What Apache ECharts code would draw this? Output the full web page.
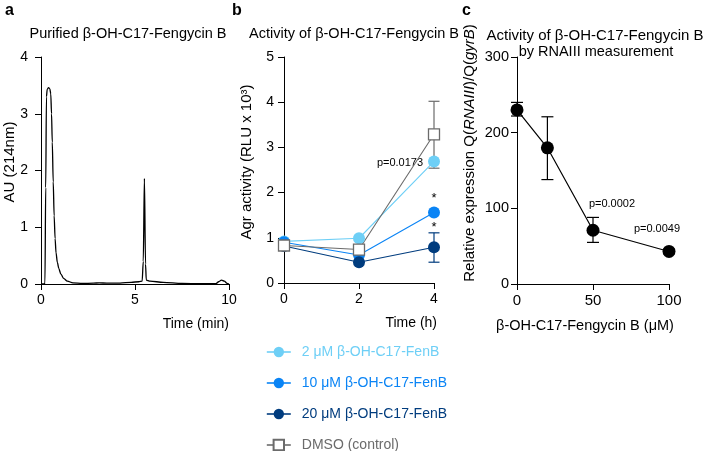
<!DOCTYPE html>
<html>
<head>
<meta charset="utf-8">
<script src="https://cdn.jsdelivr.net/npm/echarts@6/dist/echarts.min.js"></script>
<style>
html,body{margin:0;padding:0;background:#fff;}
#chart{width:703px;height:451px;}
</style>
</head>
<body>
<div id="chart"></div>
<script>
// ---------- Panel a: chromatogram ----------
const chromTime = [0, 0.19, 0.21, 0.25, 0.29, 0.33, 0.4, 0.47, 0.52, 0.56, 0.6, 0.65, 0.7, 0.75, 0.8, 0.87, 0.95, 1.05, 1.2, 1.4, 1.7, 2.2, 2.8, 3.1, 3.5, 4.2, 4.8, 5.2, 5.38, 5.44, 5.5, 5.56, 5.6, 5.8, 6.5, 7.5, 8.5, 9.3, 9.45, 9.6, 9.75, 9.9, 10];
const chromAU   = [0, 0, 0.02, 1.7, 3.3, 3.43, 3.46, 3.44, 3.35, 3.0, 2.5, 1.8, 1.2, 0.8, 0.55, 0.38, 0.27, 0.18, 0.1, 0.05, 0.02, 0.01, 0.015, 0.02, 0.015, 0.015, 0.03, 0.04, 0.05, 0.4, 1.86, 0.35, 0.07, 0.05, 0.03, 0.01, 0.005, 0.005, 0.04, 0.07, 0.05, 0.01, 0];

// ---------- Panel b: Agr activity ----------
const timeH = [0, 2, 4];
const fen2uM  = [0.92, 0.99, 2.69];
const fen10uM = [0.9, 0.62, 1.56];
const fen20uM = [0.82, 0.46, 0.79];
const dmso    = [0.83, 0.74, 3.29];
const fen20Err = [[4, 0.46, 1.11]];
const dmsoErr  = [[4, 2.54, 4.02]];
const legendNames = ['2 μM β-OH-C17-FenB', '10 μM β-OH-C17-FenB', '20 μM β-OH-C17-FenB', 'DMSO (control)'];

// ---------- Panel c: RNAIII expression ----------
const concUM = [0, 20, 50, 100];
const relExpr = [230, 180, 71, 43];
const relErrLow  = [222, 138, 55, 40];
const relErrHigh = [240, 221, 88, 46];

const FONT = '"Liberation Sans", Arial, Helvetica, sans-serif';
const C_LIGHT = '#6ECFF6', C_MID = '#0A84F5', C_DARK = '#003C7E', C_GRAY = '#6b6b6b';

function zip(xs, ys){ return xs.map((x,i)=>[x, ys[i]]); }

function axisCommon(fs, margin){
  return {
    axisLine:{show:true, onZero:false, lineStyle:{color:'#000', width:1}},
    axisTick:{show:true, length:6, lineStyle:{color:'#000', width:1}},
    axisLabel:{color:'#000', fontSize:fs, fontFamily:FONT, margin:margin},
    splitLine:{show:false}
  };
}

function errRender(capW, color){
  return function(params, api){
    const x = api.value(0), lo = api.value(1), hi = api.value(2);
    const pL = api.coord([x, lo]), pH = api.coord([x, hi]);
    const st = {stroke: color, lineWidth: 1.2};
    return {type:'group', children:[
      {type:'line', shape:{x1:pL[0], y1:pL[1], x2:pH[0], y2:pH[1]}, style:st},
      {type:'line', shape:{x1:pL[0]-capW/2, y1:pL[1], x2:pL[0]+capW/2, y2:pL[1]}, style:st},
      {type:'line', shape:{x1:pH[0]-capW/2, y1:pH[1], x2:pH[0]+capW/2, y2:pH[1]}, style:st}
    ]};
  };
}

const chart = echarts.init(document.getElementById('chart'), null, {renderer:'canvas'});

const option = {
  backgroundColor:'#fff',
  animation:false,
  textStyle:{fontFamily:FONT},
  grid:[
    {left:41, top:57, width:188, height:227},
    {left:284, top:57, width:150, height:226},
    {left:517, top:57, width:152, height:227}
  ],
  xAxis:[
    Object.assign({gridIndex:0, type:'value', min:0, max:10, interval:5}, axisCommon(14, 9)),
    Object.assign({gridIndex:1, type:'value', min:0, max:4, interval:2}, axisCommon(14, 9)),
    Object.assign({gridIndex:2, type:'value', min:0, max:100, interval:50}, axisCommon(15, 9))
  ],
  yAxis:[
    Object.assign({gridIndex:0, type:'value', min:0, max:4, interval:1}, axisCommon(14, 13)),
    Object.assign({gridIndex:1, type:'value', min:0, max:5, interval:1}, axisCommon(14, 10)),
    Object.assign({gridIndex:2, type:'value', min:0, max:300, interval:100}, axisCommon(14.5, 8))
  ],
  legend:{
    orient:'vertical', left:266, top:345, height:140, padding:0,
    itemWidth:24, itemHeight:13, itemGap:17,
    textStyle:{fontSize:14, fontFamily:FONT, padding:[0,0,0,6], lineHeight:14},
    lineStyle:{width:1.6},
    data:[
      {name:legendNames[0], textStyle:{color:C_LIGHT}},
      {name:legendNames[1], textStyle:{color:C_MID}},
      {name:legendNames[2], textStyle:{color:C_DARK}},
      {name:legendNames[3], textStyle:{color:C_GRAY}}
    ]
  },
  series:[
    {
      type:'line', xAxisIndex:0, yAxisIndex:0, data:zip(chromTime, chromAU),
      showSymbol:false, symbol:'none', smooth:0.3, smoothMonotone:'x',
      lineStyle:{color:'#000', width:1.3}
    },
    {
      name:legendNames[0], type:'line', xAxisIndex:1, yAxisIndex:1, data:zip(timeH, fen2uM),
      symbol:'circle', symbolSize:12, color:C_LIGHT,
      lineStyle:{color:C_LIGHT, width:1.1}, itemStyle:{color:C_LIGHT}
    },
    {
      name:legendNames[1], type:'line', xAxisIndex:1, yAxisIndex:1, data:zip(timeH, fen10uM),
      symbol:'circle', symbolSize:12, color:C_MID,
      lineStyle:{color:C_MID, width:1.1}, itemStyle:{color:C_MID}
    },
    {
      name:legendNames[2], type:'line', xAxisIndex:1, yAxisIndex:1, data:zip(timeH, fen20uM),
      symbol:'circle', symbolSize:12, color:C_DARK,
      lineStyle:{color:C_DARK, width:1.1}, itemStyle:{color:C_DARK}
    },
    {
      type:'custom', xAxisIndex:1, yAxisIndex:1, data:fen20Err, renderItem:errRender(11, C_DARK), z:1, silent:true
    },
    {
      type:'custom', xAxisIndex:1, yAxisIndex:1, data:dmsoErr, renderItem:errRender(11, C_GRAY), z:1, silent:true
    },
    {
      name:legendNames[3], type:'line', xAxisIndex:1, yAxisIndex:1, data:zip(timeH, dmso),
      symbol:'rect', symbolSize:11, color:'#fff',
      lineStyle:{color:C_GRAY, width:1.1},
      itemStyle:{color:'#fff', borderColor:C_GRAY, borderWidth:1.3}
    },
    {
      type:'custom', xAxisIndex:2, yAxisIndex:2,
      data:concUM.map((c,i)=>[c, relErrLow[i], relErrHigh[i]]),
      renderItem:errRender(12, '#000'), z:1, silent:true
    },
    {
      type:'line', xAxisIndex:2, yAxisIndex:2, data:zip(concUM, relExpr),
      symbol:'circle', symbolSize:13,
      lineStyle:{color:'#000', width:1.2}, itemStyle:{color:'#000'}
    }
  ],
  graphic:[
    // panel letters
    {type:'text', x:5, y:3, style:{text:'a', font:'bold 16px '+FONT, fill:'#000'}},
    {type:'text', x:232, y:3, style:{text:'b', font:'bold 16px '+FONT, fill:'#000'}},
    {type:'text', x:462, y:3, style:{text:'c', font:'bold 16px '+FONT, fill:'#000'}},
    // titles
    {type:'text', x:128, y:34, style:{text:'Purified β-OH-C17-Fengycin B', fontSize:14.5, fontFamily:FONT, fill:'#000', align:'center', verticalAlign:'middle'}},
    {type:'text', x:354, y:34, style:{text:'Activity of β-OH-C17-Fengycin B', fontSize:14.5, fontFamily:FONT, fill:'#000', align:'center', verticalAlign:'middle'}},
    {type:'text', x:595, y:36, style:{text:'Activity of β-OH-C17-Fengycin B', fontSize:15, fontFamily:FONT, fill:'#000', align:'center', verticalAlign:'middle'}},
    {type:'text', x:596, y:52, style:{text:'by RNAIII measurement', fontSize:14.5, fontFamily:FONT, fill:'#000', align:'center', verticalAlign:'middle'}},
    // axis titles
    {type:'text', x:10, y:162, rotation:Math.PI/2, style:{text:'AU (214nm)', fontSize:15, fontFamily:FONT, fill:'#000', align:'center', verticalAlign:'middle'}},
    {type:'text', x:229, y:324, style:{text:'Time (min)', fontSize:14, fontFamily:FONT, fill:'#000', align:'right', verticalAlign:'middle'}},
    {type:'text', x:247, y:162, rotation:Math.PI/2, style:{text:'Agr activity (RLU x 10³)', fontSize:15, fontFamily:FONT, fill:'#000', align:'center', verticalAlign:'middle'}},
    {type:'text', x:437, y:323, style:{text:'Time (h)', fontSize:14, fontFamily:FONT, fill:'#000', align:'right', verticalAlign:'middle'}},
    {type:'text', x:470, y:153, rotation:Math.PI/2, style:{
      text:'Relative expression Q({i|RNAIII})/Q({i|gyrB})', fontSize:15, fontFamily:FONT, fill:'#000', align:'center', verticalAlign:'middle',
      rich:{i:{fontStyle:'italic', fontSize:15, fontFamily:FONT, fill:'#000'}}
    }},
    {type:'text', x:585, y:326, style:{text:'β-OH-C17-Fengycin B (μM)', fontSize:14.5, fontFamily:FONT, fill:'#000', align:'center', verticalAlign:'middle'}},
    // annotations
    {type:'text', x:400, y:163, style:{text:'p=0.0173', fontSize:11, fontFamily:FONT, fill:'#000', align:'center', verticalAlign:'middle'}},
    {type:'text', x:434, y:198, style:{text:'*', fontSize:13, fontFamily:FONT, fill:'#000', align:'center', verticalAlign:'middle'}},
    {type:'text', x:434, y:227, style:{text:'*', fontSize:13, fontFamily:FONT, fill:'#000', align:'center', verticalAlign:'middle'}},
    {type:'text', x:612, y:204, style:{text:'p=0.0002', fontSize:11, fontFamily:FONT, fill:'#000', align:'center', verticalAlign:'middle'}},
    {type:'text', x:657, y:229, style:{text:'p=0.0049', fontSize:11, fontFamily:FONT, fill:'#000', align:'center', verticalAlign:'middle'}}
  ]
};
chart.setOption(option);
</script>
</body>
</html>
